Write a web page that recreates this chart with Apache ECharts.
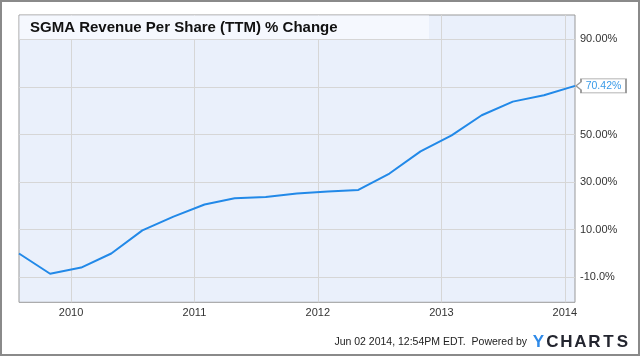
<!DOCTYPE html>
<html>
<head>
<meta charset="utf-8">
<script src="https://cdn.jsdelivr.net/npm/echarts@6/dist/echarts.min.js"></script>
<style>
html,body{margin:0;padding:0;background:#fff;}
#c{width:640px;height:356px;}
</style>
</head>
<body>
<div id="c"></div>
<script>
const titleText = 'SGMA Revenue Per Share (TTM) % Change';
const dates = ['2009-07-31','2009-10-31','2010-01-31','2010-04-30','2010-07-31','2010-10-31','2011-01-31','2011-04-30','2011-07-31','2011-10-31','2012-01-31','2012-04-30','2012-07-31','2012-10-31','2013-01-31','2013-04-30','2013-07-31','2013-10-31','2014-01-31'];
const values = [0.0, -8.5, -5.9, 0.0, 9.7, 15.5, 20.6, 23.2, 23.7, 25.2, 26.0, 26.7, 33.6, 42.9, 49.6, 58.1, 63.8, 66.5, 70.42];
const yGridValues = [-10, 10, 30, 50, 70, 90];
const yLabelValues = [-10, 10, 30, 50, 90];
const yLabelTexts = {'-10': '-10.0%', '10': '10.00%', '30': '30.00%', '50': '50.00%', '90': '90.00%'};
const xTickYears = [2010, 2011, 2012, 2013, 2014];
const footerText = 'Jun 02 2014, 12:54PM EDT.  Powered by';
const logoLetters = ['Y','C','H','A','R','T','S'];

function toTime(s) {
  const p = s.split('-').map(Number);
  return Date.UTC(p[0], p[1] - 1, p[2]);
}
const xTickValues = xTickYears.map(y => Date.UTC(y, 0, 1));
const seriesData = dates.map((d, i) => [toTime(d), values[i]]);
const last = seriesData.length - 1;

const chart = echarts.init(document.getElementById('c'), null, {renderer: 'canvas'});

const logoGraphics = logoLetters.map((ch, i) => ({
  type: 'text', z: 10,
  style: {
    x: 538.5 + i * 14, y: 342, text: ch, align: 'center', verticalAlign: 'middle',
    font: 'bold 17px "Liberation Sans", Arial, sans-serif',
    fill: i === 0 ? '#2f8ae8' : '#23252f'
  }
}));

chart.setOption({
  animation: false,
  backgroundColor: '#ffffff',
  grid: {
    left: 19, right: 65, top: 15, bottom: 53.7,
    show: true, backgroundColor: '#eaf0fb', borderColor: '#999', borderWidth: 1
  },
  xAxis: {
    type: 'value',
    min: 'dataMin', max: 'dataMax',
    axisLine: {show: false},
    axisTick: {show: false, customValues: xTickValues},
    splitLine: {show: true, lineStyle: {color: '#d6d6d6', width: 1}, customValues: xTickValues},
    axisLabel: {
      customValues: xTickValues,
      formatter: v => String(new Date(v).getUTCFullYear()),
      color: '#333', fontSize: 11, fontFamily: '"Liberation Sans", Arial, sans-serif',
      margin: 5, hideOverlap: false
    }
  },
  yAxis: {
    type: 'value',
    position: 'right',
    min: -20.5, max: 100.2,
    axisLine: {show: false},
    axisTick: {show: false, customValues: yGridValues},
    splitLine: {show: true, lineStyle: {color: '#d6d6d6', width: 1}, customValues: yGridValues},
    axisLabel: {
      customValues: yLabelValues,
      formatter: v => yLabelTexts[String(Math.round(v))] || '',
      color: '#333', fontSize: 11, fontFamily: '"Liberation Sans", Arial, sans-serif',
      margin: 5
    }
  },
  series: [{
    type: 'line',
    data: seriesData,
    showSymbol: false,
    symbol: 'none',
    lineStyle: {color: '#2289e8', width: 2},
    itemStyle: {color: '#2289e8'},
    z: 5,
    markPoint: {
      silent: true,
      animation: false,
      symbol: 'path://M0,7 L5,3 L5,0 L50,0 L50,14 L5,14 L5,11 Z',
      symbolSize: [50, 14],
      symbolKeepAspect: false,
      symbolOffset: [26, 0],
      itemStyle: {color: '#ffffff', borderColor: '#9a9a9a', borderWidth: 1},
      label: {
        show: true, position: 'inside', offset: [2.5, 0],
        formatter: p => p.value.toFixed(2) + '%',
        color: '#3a9be8', fontSize: 10.5, fontFamily: '"Liberation Sans", Arial, sans-serif'
      },
      data: [{coord: seriesData[last], value: values[last]}]
    }
  }],
  graphic: [
    {
      type: 'rect', z: 8,
      shape: {x: 19.5, y: 15.5, width: 409.5, height: 23.5},
      style: {fill: '#f5f8fe'}
    },
    {
      type: 'text', z: 9,
      style: {
        x: 30, y: 28, text: titleText, verticalAlign: 'middle',
        font: 'bold 15px "Liberation Sans", Arial, sans-serif', fill: '#111'
      }
    },
    {
      type: 'text', z: 9,
      style: {
        x: 527, y: 342.5, text: footerText, align: 'right', verticalAlign: 'middle',
        font: '10.5px "Liberation Sans", Arial, sans-serif', fill: '#222'
      }
    },
    ...logoGraphics,
    {
      type: 'rect', z: 10,
      shape: {x: 1, y: 1, width: 638, height: 354},
      style: {fill: 'none', stroke: '#8a8a8a', lineWidth: 2}
    }
  ]
});
</script>
</body>
</html>
